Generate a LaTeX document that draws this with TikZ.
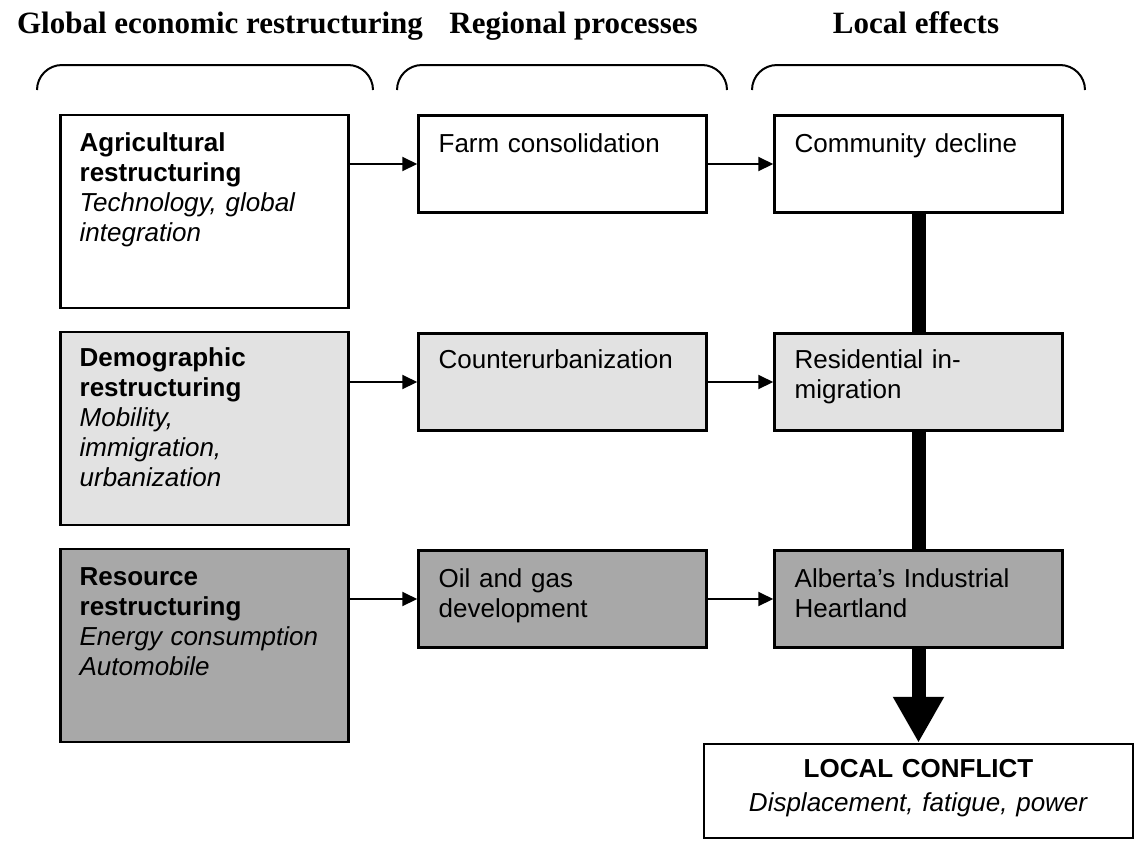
\documentclass[tikz,border=0pt]{standalone}
\usepackage{fontspec}
\setmainfont{Liberation Sans}
\newfontfamily\headfont{Liberation Serif}
\usetikzlibrary{arrows.meta}
\definecolor{shadeB}{RGB}{226,226,226}
\definecolor{shadeC}{RGB}{168,168,168}
\begin{document}
\begin{tikzpicture}[x=0.5pt,y=-0.5pt,
  mbox/.style={draw=black, line width=1.25pt, rectangle, inner sep=0pt, minimum width=144pt, fill=white},
  tallbox/.style={mbox, minimum height=96.5pt},
  shortbox/.style={mbox, minimum height=48.5pt},
  lbl/.style={anchor=base west, inner sep=0pt, text width=132pt, align=left,
              font=\fontsize{13}{15}\selectfont},
  headtxt/.style={anchor=base, inner sep=0pt, font=\headfont\fontsize{15.5}{18}\selectfont\bfseries},
  link/.style={line width=1pt, -{Triangle[length=7.5pt,width=7pt]}},
  bar/.style={line width=7pt},
  bracket/.style={line width=1pt}
]
\useasboundingbox (0,0) rectangle (1134,841);

% column headings
\node[headtxt] (h1) at (220,33) {Global economic restructuring};
\node[headtxt] (h2) at (573.5,33) {Regional processes};
\node[headtxt] (h3) at (916,33) {Local effects};

% brackets under the headings
\draw[bracket] (37,90) .. controls (37,76.2) and (48.2,65) .. (62,65) -- (348,65)
  .. controls (361.8,65) and (373,76.2) .. (373,90);
\draw[bracket] (397,90) .. controls (397,76.2) and (408.2,65) .. (422,65) -- (702,65)
  .. controls (715.8,65) and (727,76.2) .. (727,90);
\draw[bracket] (752,90) .. controls (752,76.2) and (763.2,65) .. (777,65) -- (1060,65)
  .. controls (1073.8,65) and (1085,76.2) .. (1085,90);

% row 1: agriculture
\node[tallbox] (agri) at (204.5,211.5) {};
\node[shortbox] (farm) at (562.5,164) {};
\node[shortbox] (comm) at (918.5,164) {};
% row 2: demography
\node[tallbox, fill=shadeB] (demo) at (204.5,428.5) {};
\node[shortbox, fill=shadeB] (cntr) at (562.5,382) {};
\node[shortbox, fill=shadeB] (resi) at (918.5,382) {};
% row 3: resources
\node[tallbox, fill=shadeC] (reso) at (204.5,645.5) {};
\node[shortbox, fill=shadeC] (oil) at (562.5,599) {};
\node[shortbox, fill=shadeC] (alb) at (918.5,599) {};
% outcome
\node[mbox, minimum width=214.5pt, minimum height=47pt] (conf) at (918.5,791) {};

% box texts
\node[lbl] (tagri) at ([xshift=10pt,yshift=-19pt]agri.north west)
  {\textbf{Agricultural}\\\textbf{restructuring}\\\textit{Technology, global}\\\textit{integration}};
\node[lbl] (tfarm) at ([xshift=10.5pt,yshift=-19pt]farm.north west) {Farm consolidation};
\node[lbl] (tcomm) at ([xshift=10.5pt,yshift=-19pt]comm.north west) {Community decline};

\node[lbl] (tdemo) at ([xshift=10pt,yshift=-18pt]demo.north west)
  {\textbf{Demographic}\\\textbf{restructuring}\\\textit{Mobility,}\\\textit{immigration,}\\\textit{urbanization}};
\node[lbl] (tcntr) at ([xshift=10.5pt,yshift=-18pt]cntr.north west) {Counterurbanization};
\node[lbl] (tresi) at ([xshift=10.5pt,yshift=-18pt]resi.north west) {Residential in-\\migration};

\node[lbl] (treso) at ([xshift=10pt,yshift=-19pt]reso.north west)
  {\textbf{Resource}\\\textbf{restructuring}\\\textit{Energy consumption}\\\textit{Automobile}};
\node[lbl] (toil) at ([xshift=10.5pt,yshift=-19pt]oil.north west) {Oil and gas\\development};
\node[lbl] (talb) at ([xshift=10.5pt,yshift=-19pt]alb.north west) {Alberta’s Industrial\\Heartland};

\node[anchor=base, inner sep=0pt, text width=210pt, align=center,
      font=\fontsize{13}{17}\selectfont] (tconf) at ([yshift=-17.5pt]conf.north)
  {\textbf{LOCAL CONFLICT}\\\textit{Displacement, fatigue, power}};

% horizontal links
\draw[link] (agri.east |- farm.west) -- (farm.west);
\draw[link] (farm.east) -- (comm.west);
\draw[link] (demo.east |- cntr.west) -- (cntr.west);
\draw[link] (cntr.east) -- (resi.west);
\draw[link] (reso.east |- oil.west) -- (oil.west);
\draw[link] (oil.east) -- (alb.west);

% heavy vertical flow down to the outcome
\draw[bar] (comm.south) -- (resi.north);
\draw[bar] (resi.south) -- (alb.north);
\draw[bar, -{Triangle[length=23pt,width=24pt]}] (alb.south) -- (conf.north);
\end{tikzpicture}
\end{document}
